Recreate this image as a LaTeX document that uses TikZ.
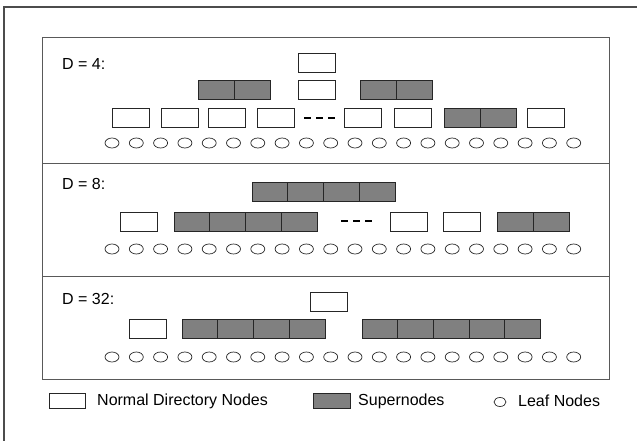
\documentclass[tikz,border=0pt]{standalone}
\usepackage{fontspec}
\setmainfont{Liberation Sans}
\usetikzlibrary{shapes.geometric}
\begin{document}
\begin{tikzpicture}[x=1pt,y=-1pt,
  nbox/.style={draw=black!85, fill=white, minimum width=37pt, minimum height=19pt, inner sep=0pt, line width=0.8pt},
  scell/.style={draw=black!85, fill=black!50, minimum width=35.8pt, minimum height=19pt, inner sep=0pt, line width=0.8pt},
  leaf/.style={draw=black!85, ellipse, minimum width=14pt, minimum height=10pt, inner sep=0pt, line width=0.7pt},
  lbl/.style={font=\fontsize{16}{19}\selectfont, anchor=west, inner sep=0pt},
  gap/.style={line width=1.5pt, dash pattern=on 7pt off 5pt}
]
\useasboundingbox (0,0) rectangle (637,441);
% outer frame (cropped)
\draw[line width=1.5pt, draw=black!70] (4,441) -- (4,7) -- (637,7);
% inner panel
\draw[draw=black!65, line width=1pt] (42,38) rectangle (609,379);
\draw[draw=black!65, line width=1pt] (42,163) -- (609,163);
\draw[draw=black!65, line width=1pt] (42,276) -- (609,276);

% ---------- D = 4 ----------
\node[lbl] (l4) at (62,64) {D = 4:};
\node[nbox] (t4) at (316.5,62.5) {};
\node[scell] (s4a1) at (216,90) {};
\node[scell] (s4a2) at (252.5,90) {};
\node[nbox] (m4) at (316.5,90) {};
\node[scell] (s4b1) at (378,90) {};
\node[scell] (s4b2) at (414,90) {};
\node[nbox] (r4a) at (131,117.5) {};
\node[nbox] (r4b) at (180,117.5) {};
\node[nbox] (r4c) at (226.5,117.5) {};
\node[nbox] (r4d) at (275.5,117.5) {};
\coordinate (g4a) at (304,118);
\coordinate (g4b) at (336,118);
\draw[gap] (g4a) -- (g4b);
\node[nbox] (r4e) at (363,117.5) {};
\node[nbox] (r4f) at (412.5,117.5) {};
\node[scell] (r4g) at (462.5,117.5) {};
\node[scell] (r4h) at (498.5,117.5) {};
\node[nbox] (r4i) at (546,117.5) {};
\foreach \i in {0,...,19} \node[leaf] (a\i) at ({112+24.3*\i},143) {};

% ---------- D = 8 ----------
\node[lbl] (l8) at (62,184) {D = 8:};
\foreach \i in {0,...,3} \node[scell] (t8\i) at ({270+35.75*\i},191.5) {};
\node[nbox] (m8a) at (139,221.5) {};
\foreach \i in {0,...,3} \node[scell] (m8b\i) at ({192+35.75*\i},221.5) {};
\coordinate (g8a) at (341,221);
\coordinate (g8b) at (373,221);
\draw[gap] (g8a) -- (g8b);
\node[nbox] (m8c) at (409,221.5) {};
\node[nbox] (m8d) at (462,221.5) {};
\node[scell] (m8e0) at (515.5,221.5) {};
\node[scell] (m8e1) at (551.25,221.5) {};
\foreach \i in {0,...,19} \node[leaf] (b\i) at ({112+24.3*\i},249) {};

% ---------- D = 32 ----------
\node[lbl] (l32) at (62,298.5) {D = 32:};
\node[nbox] (t32) at (329,302) {};
\node[nbox] (m32a) at (147.5,328.5) {};
\foreach \i in {0,...,3} \node[scell] (m32b\i) at ({200+35.75*\i},328.5) {};
\foreach \i in {0,...,4} \node[scell] (m32c\i) at ({380+35.6*\i},328.5) {};
\foreach \i in {0,...,19} \node[leaf] (c\i) at ({112+24.3*\i},357) {};

% ---------- legend ----------
\node[nbox, minimum width=36pt, minimum height=15pt] (kn) at (67,401) {};
\node[lbl] (knt) at (97,401) {Normal Directory Nodes};
\node[scell, minimum width=37pt, minimum height=15pt] (ks) at (332,401) {};
\node[lbl] (kst) at (358,401) {Supernodes};
\node[leaf, minimum width=12pt, minimum height=9pt] (kl) at (500,402) {};
\node[lbl] (klt) at (518,401) {Leaf Nodes};
\end{tikzpicture}
\end{document}
